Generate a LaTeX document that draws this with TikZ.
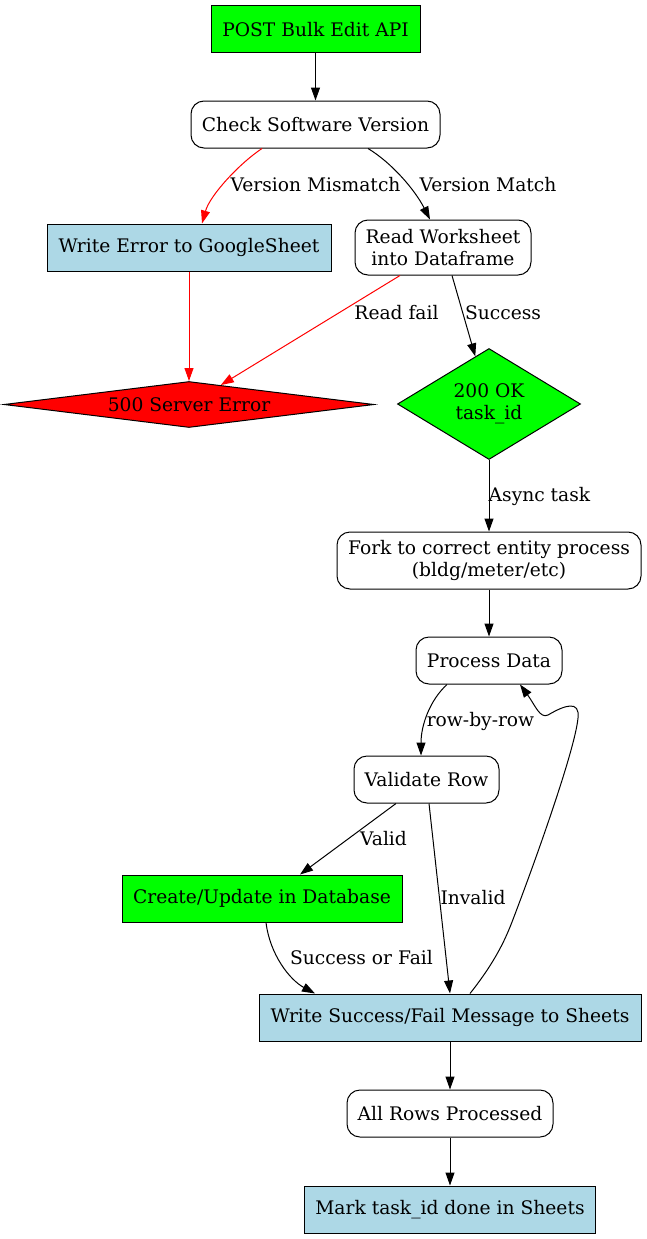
\documentclass[tikz,border=0pt]{standalone}
\usepackage{fontspec}
\setmainfont{DejaVu Serif}
\usetikzlibrary{shapes.geometric,arrows.meta}

\definecolor{gvgreen}{RGB}{0,255,0}
\definecolor{gvred}{RGB}{255,0,0}
\definecolor{gvblue}{RGB}{173,216,230}

\begin{document}
\begin{tikzpicture}[x=1pt,y=-1pt,
    every node/.style={font=\fontsize{18.67}{22.5}\selectfont},
    box/.style={draw, rectangle, minimum height=47, inner sep=0pt, line width=1pt, align=center},
    rbox/.style={box, rounded corners=13},
    gem/.style={draw, diamond, inner sep=0pt, line width=1pt, align=center},
    edge/.style={draw, line width=1pt, -{Triangle[length=13pt,width=9pt]}},
    bad/.style={edge, draw=gvred},
    lbl/.style={inner sep=0pt}]
    \useasboundingbox (0,0) rectangle (647,1239);

    % ---- nodes ---------------------------------------
    \node[box, fill=gvgreen, minimum width=209] (post) at (315.5,29.5) {POST Bulk Edit API};
    \node[rbox, minimum width=249] (chk) at (315.5,124.5) {Check Software Version};
    \node[box, fill=gvblue, minimum width=284] (werr) at (189,247.5) {Write Error to GoogleSheet};
    \node[rbox, minimum width=176, minimum height=55] (rdws) at (443,247.5) {Read Worksheet\\into Dataframe};
    \node[gem, fill=gvred, shape aspect=7.9, minimum width=370, minimum height=46] (err500) at (189,404.5) {500 Server Error};
    \node[gem, fill=gvgreen, shape aspect=1.64, minimum width=183, minimum height=111] (ok200) at (489,404) {200 OK\\task\_id};
    \node[rbox, minimum width=304, minimum height=57] (fork) at (489,560.5) {Fork to correct entity process\\(bldg/meter/etc)};
    \node[rbox, minimum width=146] (proc) at (489,660.5) {Process Data};
    \node[rbox, minimum width=145] (valid) at (426.5,779.5) {Validate Row};
    \node[box, fill=gvgreen, minimum width=280] (dbup) at (262,898.5) {Create/Update in Database};
    \node[box, fill=gvblue, minimum width=382] (wmsg) at (450,1017.5) {Write Success/Fail Message to Sheets};
    \node[rbox, minimum width=206] (alldone) at (450,1113.5) {All Rows Processed};
    \node[box, fill=gvblue, minimum width=291] (mark) at (450,1209.5) {Mark task\_id done in Sheets};

    % ---- version check -------------------------------
    \draw[edge] (post) -- (chk);
    \draw[bad] ([xshift=-53.5]chk.south) .. controls (240,163) and (210,195) .. ([xshift=13]werr.north)
        node[lbl] at (315.5,185) {Version Mismatch};
    \draw[edge] ([xshift=52.5]chk.south) .. controls (392,163) and (415,190) .. ([xshift=-13]rdws.north)
        node[lbl] at (488,185) {Version Match};

    % ---- read worksheet ------------------------------
    \draw[bad] (werr) -- (err500);
    \draw[bad] ([xshift=-43]rdws.south) -- (err500)
        node[lbl] at (396.5,313) {Read fail};
    \draw[edge] ([xshift=9]rdws.south) -- (ok200)
        node[lbl] at (503,313) {Success};
    \draw[edge] (ok200) -- (fork)
        node[lbl] at (539.5,496) {Async task};
    \draw[edge] (fork) -- (proc);

    % ---- row loop ------------------------------------
    \draw[edge] ([xshift=-42]proc.south) .. controls (430,700) and (421,725) .. ([xshift=-5.5]valid.north)
        node[lbl] at (480.5,721) {row-by-row};
    \draw[edge] ([xshift=-30.5]valid.south) -- ([xshift=38]dbup.north)
        node[lbl] at (383.5,839) {Valid};
    \draw[edge] ([xshift=2.5]valid.south) -- (wmsg.north)
        node[lbl] at (473,898) {Invalid};
    \draw[edge] ([xshift=4]dbup.south) .. controls (270,955) and (290,980) .. ([xshift=-135]wmsg.north)
        node[lbl] at (361.5,958) {Success or Fail};
    \draw[edge] ([xshift=20]wmsg.north) .. controls (495,962) and (505,940) .. (512,922)
        .. controls (535,862) and (575,750) .. (578,718)
        .. controls (580,700) and (565,705) .. (548,715)
        .. controls (540,719) and (535,705) .. ([xshift=31]proc.south);

    % ---- finish --------------------------------------
    \draw[edge] (wmsg) -- (alldone);
    \draw[edge] (alldone) -- (mark);
\end{tikzpicture}
\end{document}
